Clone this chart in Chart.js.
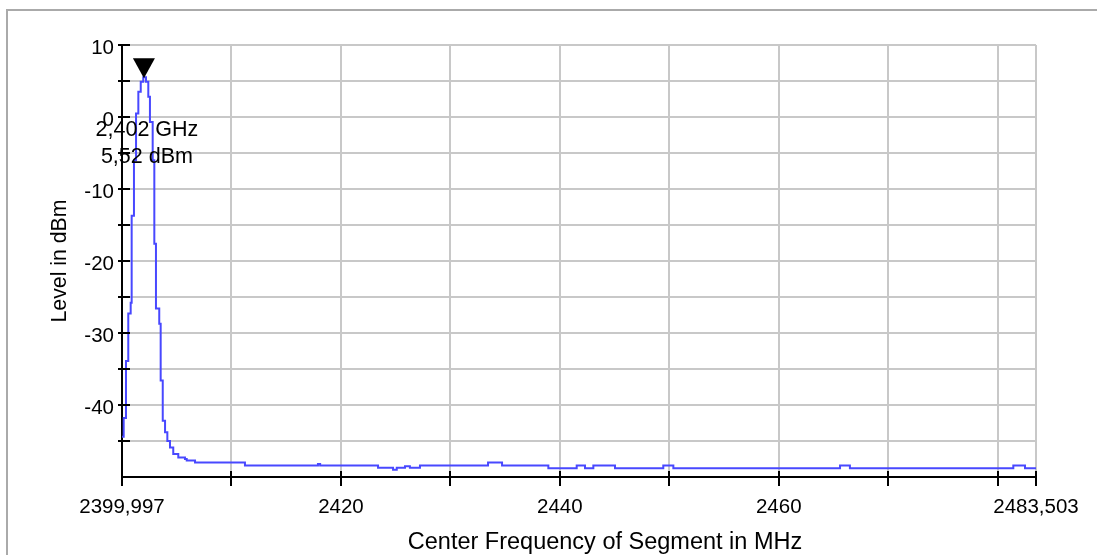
<!DOCTYPE html>
<html>
<head>
<meta charset="utf-8">
<script src="https://cdn.jsdelivr.net/npm/chart.js@4.4.1/dist/chart.umd.min.js"></script>
<style>
  body { margin: 0; background: #fff; }
  #wrap { position: relative; width: 1097px; height: 555px; overflow: hidden; }
  #frame { position: absolute; left: 6px; top: 9px; width: 1200px; height: 700px;
           border-left: 2px solid #aaaaaa; border-top: 2px solid #aaaaaa; pointer-events: none; }
</style>
</head>
<body>
<div id="wrap">
  <canvas id="spectrum" width="1097" height="555"></canvas>
  <div id="frame"></div>
</div>
<script>
// trace (step starts)
const freqMHz = [
  2399.997, 2400.15, 2400.36, 2400.57, 2400.79, 2400.88, 2401.09, 2401.28, 2401.49, 2401.71,
  2401.94, 2402.19, 2402.40, 2402.55, 2402.80, 2402.95, 2403.10, 2403.40, 2403.53, 2403.72,
  2403.93, 2404.14, 2404.38, 2404.68, 2405.14, 2405.75, 2405.91, 2406.67, 2411.23, 2417.90,
  2418.10, 2423.39, 2424.76, 2425.10, 2425.85, 2426.30, 2427.22, 2433.44, 2434.72, 2438.95,
  2441.54, 2442.30, 2443.06, 2445.04, 2449.45, 2450.37, 2465.60, 2466.50, 2481.43, 2482.50,
  2483.503
];
const levelDbm = [
  -44.4, -41.8, -33.9, -27.3, -25.8, -13.7, -6.0, 0.5, 3.5, 4.9,
  5.52, 4.9, 2.8, -0.7, -6.0, -17.6, -26.6, -28.7, -36.6, -42.2,
  -43.8, -45.0, -45.9, -46.8, -47.3, -47.5, -47.7, -48.0, -48.4, -48.2,
  -48.4, -48.7, -49.0, -48.7, -48.5, -48.7, -48.4, -48.0, -48.4, -48.8,
  -48.4, -48.8, -48.4, -48.8, -48.4, -48.8, -48.4, -48.8, -48.4, -48.8,
  -48.8
];

// marker
const markerFreq = 2402.0;
const markerLevel = 5.52;
const markerText = ['2,402 GHz', '5,52 dBm'];

// axes
const xTickValues = [2399.997, 2410, 2420, 2430, 2440, 2450, 2460, 2470, 2480, 2483.503];
const xTickLabels = ['2399,997', '', '2420', '', '2440', '', '2460', '', '', '2483,503'];
const yTickValues = [-50, -45, -40, -35, -30, -25, -20, -15, -10, -5, 0, 5, 10];
const yTickLabels = ['', '', '-40', '', '-30', '', '-20', '', '-10', '', '0', '', '10'];

const FONT = "'Liberation Sans', Arial, sans-serif";

const extras = {
  id: 'extras',
  afterDraw(chart) {
    const c = chart.ctx;
    const xs = chart.scales.x, ys = chart.scales.y;
    const axX = chart.chartArea.left, axY = chart.chartArea.bottom;
    c.save();
    c.strokeStyle = '#000';
    c.lineWidth = 2;
    c.beginPath();
    yTickValues.forEach(v => {
      if (v === ys.min) return;
      const py = Math.round(ys.getPixelForValue(v));
      c.moveTo(axX - 4, py); c.lineTo(axX + 8, py);
    });
    xTickValues.forEach(v => {
      const px = Math.round(xs.getPixelForValue(v));
      c.moveTo(px, axY - 6); c.lineTo(px, axY + 9);
    });
    c.stroke();

    // marker triangle, tip on the peak
    const mx = xs.getPixelForValue(markerFreq);
    const my = ys.getPixelForValue(markerLevel);
    c.fillStyle = '#000';
    c.beginPath();
    c.moveTo(mx - 11, my - 19);
    c.lineTo(mx + 11, my - 19);
    c.lineTo(mx, my + 1);
    c.closePath();
    c.fill();

    c.font = '21.5px ' + FONT;
    c.textAlign = 'center';
    c.textBaseline = 'middle';
    c.fillText(markerText[0], mx + 3, my + 53);
    c.fillText(markerText[1], mx + 3, my + 80);

    c.font = '23.5px ' + FONT;
    c.fillText('Center Frequency of Segment in MHz', 605, 543);
    c.restore();
  }
};

new Chart(document.getElementById('spectrum'), {
  type: 'line',
  data: {
    datasets: [{
      data: freqMHz.map((f, i) => ({ x: f, y: levelDbm[i] })),
      stepped: true,
      borderColor: '#4848ff',
      borderWidth: 2,
      pointRadius: 0,
      fill: false
    }]
  },
  options: {
    responsive: false,
    animation: false,
    layout: { padding: { left: 0, right: 61, top: 45, bottom: 0 } },
    plugins: { legend: { display: false }, tooltip: { enabled: false } },
    scales: {
      x: {
        type: 'linear',
        min: 2399.997,
        max: 2483.503,
        afterBuildTicks: s => { s.ticks = xTickValues.map(v => ({ value: v })); },
        afterFit: s => { s.height = 555 - 477; },
        grid: { color: '#c8c8c8', lineWidth: 2, drawTicks: false },
        border: { color: '#000', width: 2 },
        ticks: {
          autoSkip: false, maxRotation: 0, padding: 18, color: '#000',
          font: { family: FONT, size: 20.5 },
          callback: (v, i) => xTickLabels[i]
        }
      },
      y: {
        min: -50,
        max: 10,
        afterBuildTicks: s => { s.ticks = yTickValues.map(v => ({ value: v })); },
        afterFit: s => { s.width = 122; },
        grid: { color: '#c8c8c8', lineWidth: 2, drawTicks: false },
        border: { color: '#000', width: 2 },
        ticks: {
          autoSkip: false, padding: 8, color: '#000', labelOffset: 3,
          font: { family: FONT, size: 20.5 },
          callback: (v, i) => yTickLabels[i]
        },
        title: {
          display: true, text: 'Level in dBm', color: '#000',
          font: { family: FONT, size: 21.3 },
          padding: { top: 47, bottom: 0 }
        }
      }
    }
  },
  plugins: [extras]
});
</script>
</body>
</html>
